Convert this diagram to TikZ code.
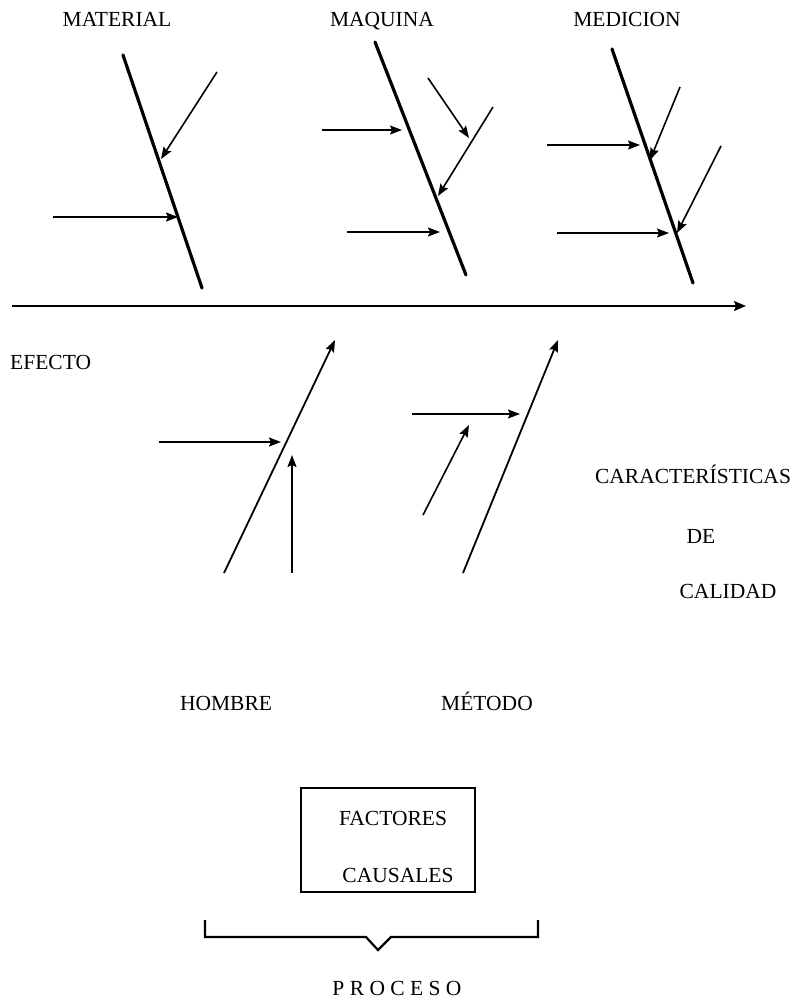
\documentclass[tikz,border=0pt]{standalone}
\usepackage{fontspec}
\setmainfont{Liberation Serif}
\usetikzlibrary{arrows.meta}
\tikzset{
  bone/.style={line width=3.2pt, line cap=round},
  twig/.style={line width=1.6pt, -{Stealth[length=12pt,width=9pt,inset=2pt]}},
  spine/.style={line width=1.8pt, -{Stealth[length=12pt,width=10pt,inset=2pt]}},
  lbl/.style={inner sep=0pt, anchor=base, font=\fontsize{21.5}{26}\selectfont},
  boxst/.style={draw, line width=2.2pt}
}
\begin{document}
\begin{tikzpicture}[x=1pt,y=-1pt]
\path[use as bounding box] (0,0) rectangle (797,1003);
% labels
\node[lbl] (material) at (117,27) {MATERIAL};
\node[lbl] (maquina) at (382,27) {MAQUINA};
\node[lbl] (medicion) at (627,27) {MEDICION};
\node[lbl, anchor=base west] (efecto) at (10,369) {EFECTO};
\node[lbl] (caract) at (693,483) {CARACTERÍSTICAS};
\node[lbl] (de) at (701,543) {DE};
\node[lbl] (calidad) at (728,598) {CALIDAD};
\node[lbl] (hombre) at (226,710) {HOMBRE};
\node[lbl] (metodo) at (487,710) {MÉTODO};
\node[lbl] (factores) at (393,825) {FACTORES};
\node[lbl] (causales) at (398,882) {CAUSALES};
\node[lbl] (proceso) at (397,995) {P R O C E S O};
% box
\node[boxst, minimum width=174pt, minimum height=104pt, inner sep=0pt] (box) at (388,840) {};
% main spine
\coordinate (s0) at (12,306);
\coordinate (s1) at (746,306);
\draw[spine] (s0) -- (s1);
% MATERIAL
\coordinate (ma0) at (123,55); \coordinate (ma1) at (202,288);
\draw[bone] (ma0) -- (ma1);
\coordinate (ma2) at (217,72); \coordinate (ma3) at (161,159);
\draw[twig] (ma2) -- (ma3);
\coordinate (ma4) at (53,217); \coordinate (ma5) at (178,217);
\draw[twig] (ma4) -- (ma5);
% MAQUINA
\coordinate (mq0) at (375,42); \coordinate (mq1) at (466,275);
\draw[bone] (mq0) -- (mq1);
\coordinate (mq2) at (428,78); \coordinate (mq3) at (469,138);
\draw[twig] (mq2) -- (mq3);
\coordinate (mq4) at (493,107); \coordinate (mq5) at (438,196);
\draw[twig] (mq4) -- (mq5);
\coordinate (mq6) at (322,130); \coordinate (mq7) at (402,130);
\draw[twig] (mq6) -- (mq7);
\coordinate (mq8) at (347,232); \coordinate (mq9) at (440,232);
\draw[twig] (mq8) -- (mq9);
% MEDICION
\coordinate (me0) at (612,49); \coordinate (me1) at (693,283);
\draw[bone] (me0) -- (me1);
\coordinate (me2) at (680,87); \coordinate (me3) at (650,160);
\draw[twig] (me2) -- (me3);
\coordinate (me4) at (721,146); \coordinate (me5) at (677,233);
\draw[twig] (me4) -- (me5);
\coordinate (me6) at (547,145); \coordinate (me7) at (640,145);
\draw[twig] (me6) -- (me7);
\coordinate (me8) at (557,233); \coordinate (me9) at (669,233);
\draw[twig] (me8) -- (me9);
% HOMBRE
\coordinate (h0) at (224,573); \coordinate (h1) at (335,340);
\draw[twig, line width=1.8pt] (h0) -- (h1);
\coordinate (h2) at (159,442); \coordinate (h3) at (281,442);
\draw[twig] (h2) -- (h3);
\coordinate (h4) at (292,573); \coordinate (h5) at (292,455);
\draw[twig] (h4) -- (h5);
% METODO
\coordinate (mt0) at (463,573); \coordinate (mt1) at (558,340);
\draw[twig, line width=1.8pt] (mt0) -- (mt1);
\coordinate (mt2) at (412,414); \coordinate (mt3) at (520,414);
\draw[twig] (mt2) -- (mt3);
\coordinate (mt4) at (423,515); \coordinate (mt5) at (469,425);
\draw[twig] (mt4) -- (mt5);
% bracket
\coordinate (b0) at (205,920); \coordinate (b1) at (205,937);
\coordinate (b2) at (366,937); \coordinate (b3) at (378,950);
\coordinate (b4) at (391,937); \coordinate (b5) at (538,937);
\coordinate (b6) at (538,920);
\draw[line width=2.2pt] (b0) -- (b1) -- (b2) -- (b3) -- (b4) -- (b5) -- (b6);
\end{tikzpicture}
\end{document}
